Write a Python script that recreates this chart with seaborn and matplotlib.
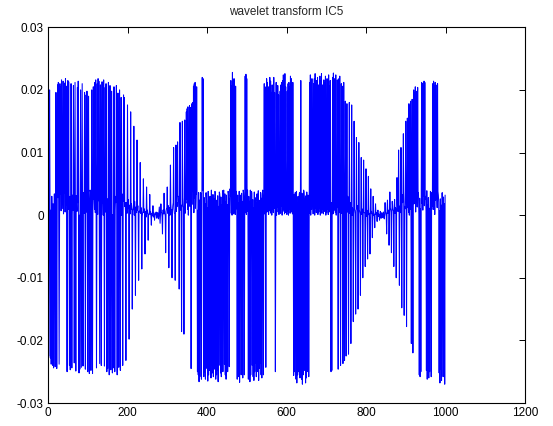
import numpy as np
import pandas as pd
import matplotlib
matplotlib.use("Agg")
import matplotlib.pyplot as plt
import seaborn as sns

# Wavelet coefficients of component IC5, in units of 1e-4.
# Even samples (n = 0, 2, 4, ...) carry the peaks, odd samples the floor between them.
spike_levels = [
    # n 0-190
    205, -225, 200, -228, -238, 30, -240, -244, 34, -242,
    196, -245, 208, 212, -238, 210, 205, 216, 38, 214,
    209, 211, 218, 206, -250, 215, 213, -240, -247, 210,
    -244, 32, 207, -236, 212, -249, 30, 204, 214, -252,
    -246, 200, -243, 210, -241, 36, 196, -246, 192, 198,
    -250, 190, -253, 40, -248, 200, -253, 205, 26, 212,
    216, -244, 210, 218, 214, -237, 208, -240, 213, 35,
    216, -241, 204, 210, -250, -245, 212, -255, 207, -247,
    198, -252, -244, 205, -250, 30, 207, -255, 195, -243,
    200, -248, 188, 34, -240, 192,
    # n 192-270
    188, 20, -232, 12, 176, 25, -198, 8, 165, 18,
    -150, 10, 142, 22, -128, 6, 120, 15, -104, 5,
    84, 12, -86, 4, 58, 10, -62, 3, 45, 8,
    -40, 2, 33, 6, -16, 1, 15, 4, -8, 2,
    # n 272-282
    5, -5, 4, -6, 13, -13,
    # n 284-390
    18, 4, -30, 8, 35, 2, -60, 10, 45, 6,
    -84, 12, 80, 5, -100, 15, 108, 3, -104, 112,
    20, 117, 30, -118, 148, 8, -186, 150, 14, -190,
    152, 35, 165, 170, 173, 28, 175, 172, -245, 178,
    180, 206, 210, 212, 40, 205, -250, -255, -266, -258,
    36, -262, 220, 218,
    # n 392-458
    -258, -250, -262, 36, -245, -265, -255, -248, 30, -260,
    -240, -252, -258, -246, 38, -262, -255, -248, -266, -240,
    34, -252, -258, -245, -250, 40, -238, -255, -262, -244,
    -250, 35, -242, 42,
    # n 460-474
    215, 206, 228, 35, 218, 30, 206, 38,
    # n 476-494
    -262, -250, -258, -267, 32, -255, -248, -260, 36, -255,
    # n 496-502
    222, 225, 218, 40,
    # n 504-542
    -262, -248, -266, -255, 38, -240, -258, -264, -250, -236,
    -258, 34, -250, -264, -245, -236, -255, -260, 40, -255,
    # n 544-616
    210, 205, -243, 218, 212, 205, 36, 220, 214, 196,
    208, 40, 220, 196, -250, 212, 200, 207, 192, 38,
    198, 208, 212, 215, 224, 221, 226, 205, 30, 198,
    210, 212, 205, 222, 218, 200, 212,
    # n 618-656
    -256, -250, 36, -262, -268, -255, -250, 34, -260, 215,
    -262, -270, -255, 38, -248, -268, -260, -250, 32, -258,
    # n 658-712
    212, 224, 205, 218, 40, 210, 218, 226, 200, 215,
    220, 208, 38, 222, 215, 226, 208, 200, 216, 212,
    222, 36, 218, 210, 224, 206, 215, -250,
    # n 714-746
    -248, 220, 227, 218, 212, 224, 38, 216, -246, 218,
    222, -240, 210, 206, -237, 212, -232,
    # n 748-834
    182, -225, 178, 30, -222, 180, 20, -205, 176, 12,
    -170, 150, 8, -158, 124, 15, -150, 116, 6, -128,
    92, 10, -100, 88, 4, -82, 74, 8, -70, 62,
    3, -62, 42, 6, -36, 30, 2, -20, 18, 4,
    -10, 8, 2, -8,
    # n 836-846
    6, -5, 4, -4, 5, -6,
    # n 848-998
    20, 4, -30, 24, 6, -48, 37, 10, -60, 22,
    8, -82, 25, 12, -100, 60, 6, 104, -112, 15,
    108, -148, 20, 130, -160, 10, 150, -178, 155, 30,
    178, 175, 182, -205, 185, -220, 200, 196, 205, 198,
    40, 204, 36, -255, -258, -250, 212, 210, 206, 214,
    212, 30, -248, -262, -245, -260, -250, 38, -258, 36,
    210, 214, 206, 212, 208, 40, 210, 32, -252, -268,
    -246, -264, 36, -258, -255, -270,
]

floor_levels = [
    # n 1-191
    12, 3, 25, 8, 30, 2, 18, 6, 0, 22,
    4, 15, 28, 1, 20, 33, 7, 10, 26, 2,
    35, 5, 16, 0, 24, 9, 3, 30, 12, 19,
    1, 8, 27, 14, 2, 31, 6, 20, 10, 0,
    29, 4, 17, 11, 33, 3, 22, 8, 5, 16,
    21, 0, 13, 37, 6, 2, 18, 25, 9, 4,
    32, 11, 1, 23, 7, 15, 28, 3, 19, 0,
    10, 34, 5, 14, 26, 2, 8, 30, 17, 6,
    24, 1, 12, 36, 9, 20, 3, 27, 15, 4,
    11, 31, 0, 18, 7, 22,
    # n 193-271
    14, 6, 20, 3, 11, 8, 16, 2, 9, 12,
    5, 10, 0, 7, 13, 4, 8, 2, 6, 9,
    3, 5, -2, 7, 4, 1, 6, -3, 3, 2,
    -1, 4, 1, -2, 3, 0, -3, 2, -1, 1,
    # n 273-283
    -4, 2, -2, 3, -1, 2,
    # n 285-391
    5, -3, 8, 2, 10, -1, 6, 12, 3, 15,
    7, 0, 18, 9, 4, 20, 11, 2, 25, 6,
    14, 30, 8, 1, 22, 16, 5, 28, 12, 35,
    3, 19, 26, 9, 0, 31, 14, 22, 6, 38,
    17, 4, 27, 11, 33, 20, 8, 36, 24, 15,
    30, 10, 39, 21,
    # n 393-459
    28, 18, 35, 22, 12, 38, 25, 30, 15, 40,
    20, 33, 26, 10, 36, 24, 19, 31, 14, 37,
    23, 29, 16, 39, 27, 11, 34, 21, 32, 17,
    38, 25, 13, 30,
    # n 461-475
    3, 0, 8, 2, 5, 1, 10, 4,
    # n 477-495
    32, 20, 38, 15, 27, 35, 22, 40, 18, 30,
    # n 497-503
    4, 1, 6, 12,
    # n 505-543
    30, 22, 40, 17, 35, 25, 12, 37, 28, 20,
    33, 19, 39, 24, 14, 36, 27, 31, 16, 38,
    # n 545-617
    2, 10, 0, 5, 12, 1, 7, 15, 3, 0,
    9, 4, 11, 2, 6, 0, 13, 5, 1, 8,
    3, 14, 0, 6, 10, 2, 4, 12, 1, 7,
    0, 9, 3, 11, 5, 2, 8,
    # n 619-657
    33, 24, 8, 38, 20, 30, 16, 36, 27, 22,
    35, 18, 40, 26, 12, 31, 37, 21, 29, 15,
    # n 659-713
    3, 0, 9, 14, 2, 6, 0, 11, 4, 8,
    1, 5, 12, 0, 7, 3, 10, 2, 6, 13,
    0, 4, 9, 1, 11, 5, 8, 20,
    # n 715-747
    25, 2, 7, 10, 4, 0, 12, 6, 30, 4,
    8, 22, 3, 12, 28, 5, 16,
    # n 749-835
    8, 14, 5, 11, 9, 3, 7, 12, 0, 6,
    4, 9, 2, 5, 10, 4, 3, 8, 2, 7,
    1, 5, -1, 4, 3, 6, -2, 2, 4, 1,
    -3, 2, 3, -1, 2, 0, -2, 3, 1, -1,
    2, -2, 1, 0,
    # n 837-847
    -2, 3, -1, 2, -3, 1,
    # n 849-999
    4, -2, 6, 3, 8, 0, 10, 5, 2, 12,
    7, 15, 3, 9, 1, 18, 6, 22, 11, 4,
    2, 33, 26, 8, 14, 38, 20, 30, 12, 4,
    0, 9, 16, 35, 24, 40, 18, 29, 5, 21,
    13, 34, 2, 27, 10, 37, 19, 8, 31, 15,
    25, 6, 39, 17, 28, 11, 3, 36, 22, 14,
    9, 30, 1, 24, 33, 12, 38, 20, 7, 26,
    16, 35, 4, 29, 18, 32,
]

level_unit = 1e-4

x_ticks = [0, 200, 400, 600, 800, 1000, 1200]
x_tick_labels = ["0", "200", "400", "600", "800", "1000", "1200"]
y_ticks = [-0.03, -0.02, -0.01, 0.0, 0.01, 0.02, 0.03]
y_tick_labels = ["-0.03", "-0.02", "-0.01", "0", "0.01", "0.02", "0.03"]

coef = np.empty(len(spike_levels) + len(floor_levels))
coef[0::2] = spike_levels
coef[1::2] = floor_levels
coef *= level_unit
df = pd.DataFrame({"n": np.arange(coef.size), "coef": coef})

sns.set_style("white")
plt.rcParams["font.family"] = ["Liberation Sans", "DejaVu Sans"]

W, H = 553, 426
fig = plt.figure(figsize=(W / 100, H / 100), dpi=100)
left, right, top, bottom = 48, 525, 27.3, 403
ax = fig.add_axes([left / W, 1 - bottom / H, (right - left) / W, (bottom - top) / H])

sns.lineplot(data=df, x="n", y="coef", color="#0000ff", linewidth=0.75,
             estimator=None, sort=False, ax=ax)

ax.set_xlim(0, 1200)
ax.set_ylim(-0.03, 0.03)
ax.set_xticks(x_ticks)
ax.set_xticklabels(x_tick_labels)
ax.set_yticks(y_ticks)
ax.set_yticklabels(y_tick_labels)
ax.set_xlabel("")
ax.set_ylabel("")
ax.tick_params(direction="in", top=True, right=True, length=4, width=0.7,
               labelsize=8.5, colors="black", pad=3)
for spine in ax.spines.values():
    spine.set_visible(True)
    spine.set_color("black")
    spine.set_linewidth(0.8)
ax.set_title("wavelet transform IC5", fontsize=8.5, pad=9)

fig.savefig("out.png", dpi=100, facecolor="white")
